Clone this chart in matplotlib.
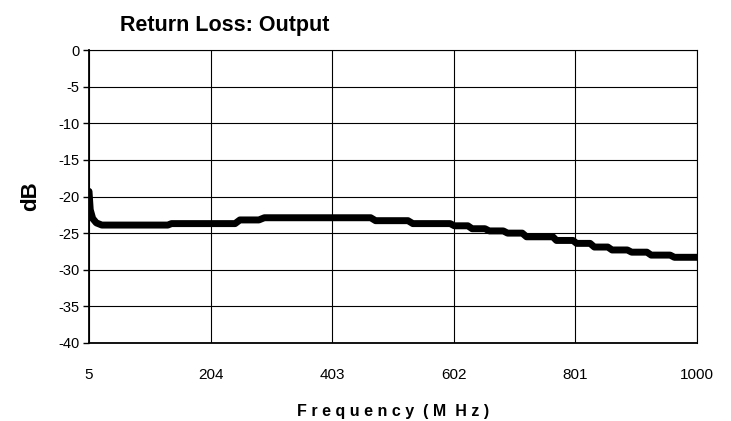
import matplotlib.pyplot as plt

# 数据：频率 (MHz) 与回波损耗 (dB)
freq = [5, 7, 11, 17, 26, 134, 140, 244, 252, 283, 292, 466, 474, 527, 535, 596, 603,
        625, 632, 653, 660, 683, 690, 714, 721, 764, 770, 797, 803, 825, 832,
        854, 861, 886, 893, 918, 925, 956, 963, 1000]
loss = [-19.3, -21.8, -23.0, -23.6, -23.9, -23.9, -23.7, -23.7, -23.2, -23.2, -22.9,
        -22.9, -23.3, -23.3, -23.7, -23.7, -24.0, -24.0, -24.4, -24.4, -24.7,
        -24.7, -25.0, -25.0, -25.5, -25.5, -26.0, -26.0, -26.4, -26.4, -26.9,
        -26.9, -27.3, -27.3, -27.6, -27.6, -28.0, -28.0, -28.3, -28.3]
xticks = [5, 204, 403, 602, 801, 1000]
yticks = [0, -5, -10, -15, -20, -25, -30, -35, -40]

plt.rcParams['font.family'] = ['Liberation Sans', 'DejaVu Sans']
plt.rcParams['axes.unicode_minus'] = False
plt.rcParams['font.size'] = 10

fig = plt.figure(figsize=(7.31, 4.21), dpi=100)
ax = fig.add_axes([89 / 731, 1 - 343 / 421, 608 / 731, 293 / 421])

ax.plot(freq, loss, color='black', linewidth=5, solid_capstyle='round',
        solid_joinstyle='round', zorder=3)

ax.set_xlim(5, 1000)
ax.set_ylim(-40, 0)
ax.set_xticks(xticks)
ax.set_yticks(yticks)
ax.set_xticklabels([str(t) for t in xticks], fontsize=11)
ax.set_yticklabels([str(t) for t in yticks], fontsize=10.5)
ax.grid(True, color='black', linewidth=0.8)
ax.tick_params(axis='x', length=0, pad=18)
ax.tick_params(axis='y', length=4, width=1, pad=3)
for s in ax.spines.values():
    s.set_linewidth(0.8)
ax.spines['left'].set_linewidth(1.3)
ax.spines['bottom'].set_linewidth(1.3)

ax.set_ylabel('dB', fontsize=16, fontweight='bold', labelpad=12)
ax.set_xlabel('F r e q u e n c y  ( M  H z )', fontsize=11.5, fontweight='bold', labelpad=16)
fig.text(120 / 731, 1 - 31 / 421, 'Return Loss: Output', fontsize=15.5,
         fontweight='bold', ha='left', va='baseline')

plt.savefig('out.png', dpi=100)
